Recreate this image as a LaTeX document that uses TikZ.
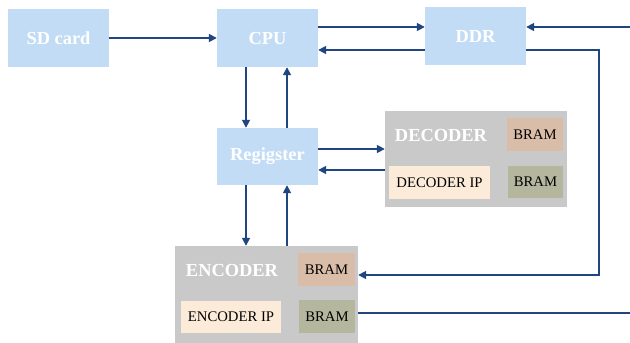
\documentclass[tikz,border=0pt]{standalone}
\usepackage{fontspec}
\setmainfont{Liberation Serif}
\usetikzlibrary{arrows.meta}
\definecolor{blk}{HTML}{C2DCF6}
\definecolor{grp}{HTML}{C9C9C9}
\definecolor{bramA}{HTML}{D9BDA8}
\definecolor{bramB}{HTML}{B5B69E}
\definecolor{ipc}{HTML}{FDEBD9}
\definecolor{wire}{HTML}{1F4681}
\begin{document}
\begin{tikzpicture}[x=1pt,y=-1pt,
  blockbox/.style={fill=blk,draw=none,inner sep=0pt,text=white,
    font=\fontsize{18.4}{20}\selectfont\bfseries},
  groupbox/.style={fill=grp,draw=none,inner sep=0pt},
  grouptitle/.style={text=white,inner sep=0pt,
    font=\fontsize{18.4}{20}\selectfont\bfseries},
  bramtop/.style={fill=bramA,draw=none,inner sep=0pt,
    font=\fontsize{14.7}{16}\selectfont},
  brambot/.style={fill=bramB,draw=none,inner sep=0pt,
    font=\fontsize{14.7}{16}\selectfont},
  ipbox/.style={fill=ipc,draw=none,inner sep=0pt,
    font=\fontsize{14.7}{16}\selectfont},
  link/.style={draw=wire,line width=1.7pt,-{Triangle[length=8pt,width=8pt]}},
  plainlink/.style={draw=wire,line width=1.7pt}]
\useasboundingbox (0,0) rectangle (630,343);

% main blocks
\node[blockbox,minimum width=101pt,minimum height=58pt] (sd) at (58.5,38) {SD card};
\node[blockbox,minimum width=101pt,minimum height=58pt] (cpu) at (267.5,38) {CPU};
\node[blockbox,minimum width=101pt,minimum height=58pt] (ddr) at (475.5,36) {DDR};
\node[blockbox,minimum width=101pt,minimum height=57pt] (reg) at (267.5,156.5) {Regigster};

% decoder group
\node[groupbox,minimum width=182pt,minimum height=96pt] (dec) at (476,159) {};
\node[grouptitle] (dect) at (441,135) {DECODER};
\node[bramtop,minimum width=56pt,minimum height=33pt] (decb1) at (535,134.5) {BRAM};
\node[ipbox,minimum width=101pt,minimum height=33pt] (decip) at (439.5,182.5) {DECODER IP};
\node[brambot,minimum width=55pt,minimum height=32pt] (decb2) at (535.5,182) {BRAM};

% encoder group
\node[groupbox,minimum width=183pt,minimum height=97pt] (enc) at (266.5,294.5) {};
\node[grouptitle] (enct) at (232,270) {ENCODER};
\node[bramtop,minimum width=57pt,minimum height=33pt] (encb1) at (326.5,269.5) {BRAM};
\node[ipbox,minimum width=100pt,minimum height=32pt] (encip) at (231,317) {ENCODER IP};
\node[brambot,minimum width=56pt,minimum height=33pt] (encb2) at (327,316.5) {BRAM};

% free ends at the right edge
\coordinate (inR) at (630,27);
\coordinate (outR) at (630,313);
\coordinate (bend1) at (599,50);
\coordinate (bend2) at (599,275);

% connectors
\draw[link] (sd.east) -- (cpu.west);
\draw[link] (cpu.east |- 0,27) -- (ddr.west |- 0,27);
\draw[link] (ddr.west |- 0,50) -- (cpu.east |- 0,50);
\draw[link] (inR) -- (ddr.east |- inR);
\draw[link] (ddr.east |- bend1) -- (bend1) -- (bend2) -- (enc.east |- bend2);
\draw[plainlink] (enc.east |- outR) -- (outR);

\draw[link] (cpu.south -| 246,0) -- (reg.north -| 246,0);
\draw[link] (reg.north -| 287,0) -- (cpu.south -| 287,0);
\draw[link] (reg.east |- 0,149) -- (dec.west |- 0,149);
\draw[link] (dec.west |- 0,170) -- (reg.east |- 0,170);
\draw[link] (reg.south -| 246,0) -- (enc.north -| 246,0);
\draw[link] (enc.north -| 287,0) -- (reg.south -| 287,0);
\end{tikzpicture}
\end{document}
